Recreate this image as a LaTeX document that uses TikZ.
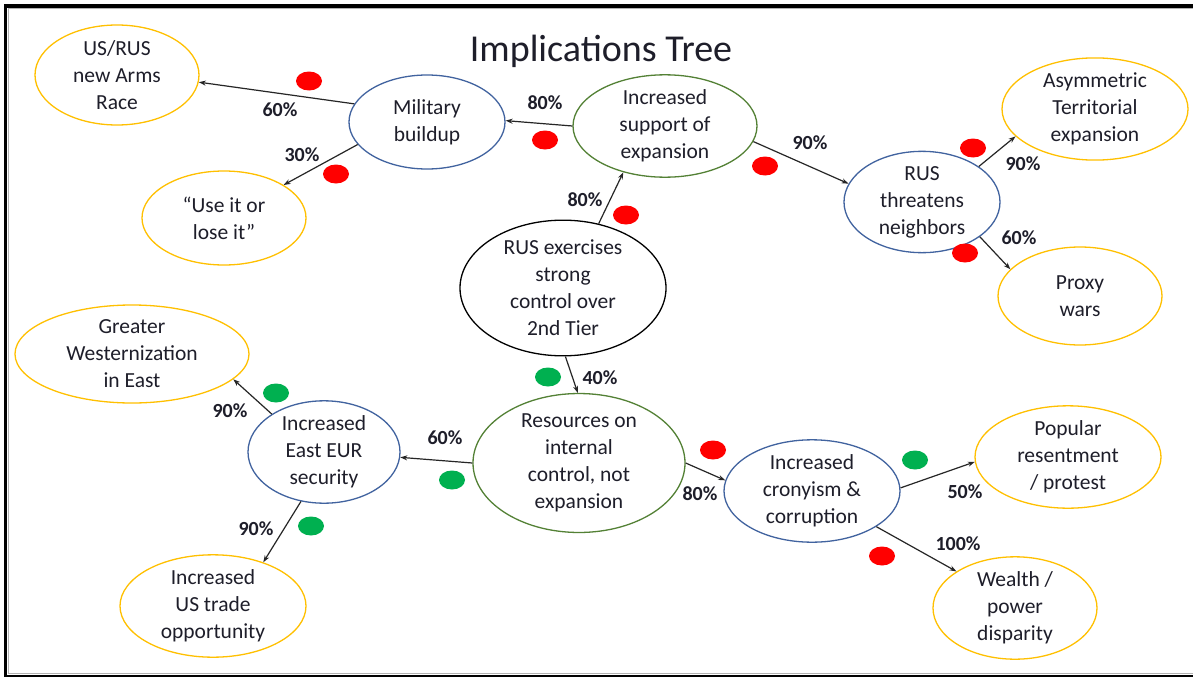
\documentclass[tikz,border=0pt]{standalone}
\usepackage{fontspec}
\setmainfont{Carlito}
\usetikzlibrary{shapes.geometric,arrows.meta}
\definecolor{outcome}{HTML}{FFC000}
\definecolor{midblue}{HTML}{41639F}
\definecolor{midgreen}{HTML}{538135}
\definecolor{dotred}{HTML}{FF0000}
\definecolor{dotgreen}{HTML}{00B050}
\definecolor{inktext}{HTML}{1E1E2A}
\tikzset{
  bubble/.style={ellipse, draw, line width=1.3pt, inner sep=0pt, align=center,
    text=inktext, font=\fontsize{21.5}{27}\selectfont},
  leaf/.style={bubble, draw=outcome},
  mid/.style={bubble, draw=midblue},
  hub/.style={bubble, draw=midgreen},
  root/.style={bubble, draw=black},
  arr/.style={-{Stealth[length=7pt,width=5pt]}, line width=1.2pt, draw=black!85},
  pct/.style={font=\bfseries\fontsize{20}{22}\selectfont, text=inktext, inner sep=0pt},
  bad/.style={ellipse, fill=dotred, minimum width=26pt, minimum height=19pt, inner sep=0pt},
  good/.style={ellipse, fill=dotgreen, minimum width=26pt, minimum height=19pt, inner sep=0pt},
}
\begin{document}
\begin{tikzpicture}[x=1pt,y=-1pt]
\useasboundingbox (0,0) rectangle (1193,677);
\fill[white] (0,0) rectangle (1193,677);
% frame
\fill[black] (4,4) rectangle (1193,8);
\fill[black] (4,4) rectangle (7,677);
\fill[black] (4,675) rectangle (1193,677);
\draw[gray!60, line width=1pt] (1193,9) -- (8.5,9) -- (8.5,673.5) -- (1193,673.5);

\node[font=\fontsize{38}{40}\selectfont, text=inktext] (title) at (601,51) {Implications Tree};

% nodes
\node[leaf, minimum width=164pt, minimum height=100pt] (usrus) at (117,75) {US/RUS\\new Arms\\Race};
\node[mid, minimum width=156pt, minimum height=94pt] (mil) at (427,122) {Military\\buildup};
\node[leaf, minimum width=164pt, minimum height=94pt] (useit) at (224,218) {``Use it or\\lose it''};
\node[hub, minimum width=184pt, minimum height=88pt] (sup) at (665,126) {Increased\\support of\\expansion};
\node[root, minimum width=206pt, minimum height=134pt] (rus) at (563,288) {RUS exercises\\strong\\control over\\2nd Tier};
\node[mid, minimum width=156pt, minimum height=94pt] (thr) at (922,202) {RUS\\threatens\\neighbors};
\node[leaf, minimum width=186pt, minimum height=98pt] (asym) at (1095,109) {Asymmetric\\Territorial\\expansion};
\node[leaf, minimum width=164pt, minimum height=98pt] (proxy) at (1080,296) {Proxy\\wars};
\node[leaf, minimum width=234pt, minimum height=98pt] (west) at (132,354) {Greater\\Westernization\\in East};
\node[mid, minimum width=152pt, minimum height=84pt] (east) at (324,452) {Increased\\East EUR\\security};
\node[leaf, minimum width=186pt, minimum height=98pt] (trade) at (213,606) {Increased\\US trade\\opportunity};
\node[hub, minimum width=212pt, minimum height=124pt] (res) at (579,463) {Resources on\\internal\\control, not\\expansion};
\node[mid, minimum width=176pt, minimum height=98pt] (cron) at (812,491) {Increased\\cronyism \&\\corruption};
\node[leaf, minimum width=186pt, minimum height=100pt] (pop) at (1068,457) {Popular\\resentment\\/ protest};
\node[leaf, minimum width=164pt, minimum height=98pt] (wealth) at (1015,608) {Wealth /\\power\\disparity};

% connectors
\draw[arr] (mil.166.5) -- (usrus.-5.5);
\draw[arr] (mil.198) -- (useit.29);
\draw[arr] (sup.180) -- (mil.1);
\draw[arr] (rus.61) -- (sup.228);
\draw[arr] (sup.-10) -- (thr.166);
\draw[arr] (thr.32) -- (asym.199);
\draw[arr] (thr.-31) -- (proxy.159);
\draw[arr] (rus.-88) -- (res.91);
\draw[arr] (res.180) -- (east.-4);
\draw[arr] (east.144) -- (west.-14);
\draw[arr] (east.245) -- (trade.41);
\draw[arr] (res.0) -- (cron.173);
\draw[arr] (cron.2) -- (pop.183);
\draw[arr] (cron.-29) -- (wealth.148);

% probabilities
\node[pct] (p1) at (280,110) {60\%};
\node[pct] (p2) at (302,155) {30\%};
\node[pct] (p3) at (545,103) {80\%};
\node[pct] (p4) at (585,200) {80\%};
\node[pct] (p5) at (810,143) {90\%};
\node[pct] (p6) at (1023,164) {90\%};
\node[pct] (p7) at (1019,238) {60\%};
\node[pct] (p8) at (600,378) {40\%};
\node[pct] (p9) at (445,438) {60\%};
\node[pct] (p10) at (230,411) {90\%};
\node[pct] (p11) at (256,529) {90\%};
\node[pct] (p12) at (700,494) {80\%};
\node[pct] (p13) at (965,492) {50\%};
\node[pct] (p14) at (958,544) {100\%};

% outlook markers
\node[bad] (d1) at (309,81) {};
\node[bad] (d2) at (336,174) {};
\node[bad] (d3) at (545,140) {};
\node[bad] (d4) at (626,215) {};
\node[bad] (d5) at (765,166) {};
\node[bad] (d6) at (973,148) {};
\node[bad] (d7) at (965,253) {};
\node[good] (d8) at (548,377) {};
\node[good] (d9) at (452,480) {};
\node[good] (d10) at (276,393) {};
\node[good] (d11) at (311,526) {};
\node[bad] (d12) at (713,450) {};
\node[good] (d13) at (915,460) {};
\node[bad] (d14) at (882,556) {};
\end{tikzpicture}
\end{document}
